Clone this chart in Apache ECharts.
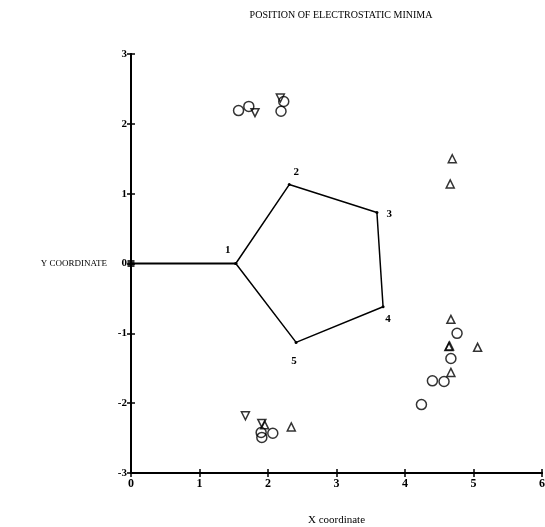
<!DOCTYPE html>
<html><head><meta charset="utf-8">
<script src="https://cdn.jsdelivr.net/npm/echarts@6/dist/echarts.min.js"></script>
<style>html,body{margin:0;padding:0;background:#fff}#c{width:545px;height:527px}</style>
</head><body><div id="c"></div>
<script>
var xTicks = [0, 1, 2, 3, 4, 5, 6];
var yTicks = [-3, -2, -1, 0, 1, 2, 3];
var stemLine = [[0, 0], [1.53, 0]];
var pentagon = [[1.53, 0], [2.31, 1.13], [3.59, 0.73], [3.68, -0.62], [2.41, -1.13], [1.53, 0]];
var vertexLabels = ['1', '2', '3', '4', '5'];
var circles = [[1.57, 2.19], [1.72, 2.25], [2.23, 2.32], [2.19, 2.18],
  [4.76, -1.00], [4.67, -1.36], [4.40, -1.68], [4.57, -1.69], [4.24, -2.02],
  [1.90, -2.42], [1.91, -2.49], [2.07, -2.43]];
var upTriangles = [[4.69, 1.50], [4.66, 1.14], [4.67, -0.80], [4.64, -1.19], [4.65, -1.18],
  [5.06, -1.20], [4.67, -1.56], [1.95, -2.31], [2.34, -2.34]];
var downTriangles = [[1.81, 2.16], [2.18, 2.37], [1.67, -2.18], [1.91, -2.29]];
var origin = [[0, 0]];

var serif = '"Liberation Serif", "DejaVu Serif", serif';
var chart = echarts.init(document.getElementById('c'));
var labelPos = ['top', 'top', 'right', 'bottom', 'bottom'];
var labelOff = [[-8, -1], [7, 0], [3, 2], [5, 0], [-2, 7]];
var pentData = pentagon.slice(0, 5).map(function (p, i) {
  return { value: p, label: { show: true, formatter: vertexLabels[i], position: labelPos[i], offset: labelOff[i] } };
});
pentData.push({ value: pentagon[5] });
var axisCommon = {
  axisLine: { show: true, onZero: false, lineStyle: { color: '#000', width: 2 } },
  splitLine: { show: false }
};
chart.setOption({
  animation: false,
  title: { text: 'POSITION OF ELECTROSTATIC MINIMA', left: 336, top: 5, textAlign: 'center',
    textStyle: { fontFamily: serif, fontSize: 10, fontWeight: 'normal', color: '#000' } },
  grid: { left: 131, right: 3, top: 54, bottom: 54, outerBoundsMode: 'none', containLabel: false },
  xAxis: [
    Object.assign({ type: 'value', min: 0, max: 6, interval: 1, position: 'bottom',
      name: 'X coordinate', nameLocation: 'middle', nameGap: 42,
      nameTextStyle: { fontFamily: serif, fontSize: 11, color: '#000' },
      axisTick: { show: true, length: 4, lineStyle: { color: '#000', width: 1.5 } },
      axisLabel: { fontFamily: serif, fontSize: 12, fontWeight: 'bold', color: '#000', margin: 5,
        formatter: function (v) { return xTicks.indexOf(v) >= 0 ? String(v) : ''; } } }, axisCommon),
    Object.assign({ type: 'value', min: 0, max: 6, interval: 1, position: 'bottom',
      axisTick: { show: true, inside: true, length: 4, lineStyle: { color: '#000', width: 1.5 } },
      axisLabel: { show: false } }, axisCommon)
  ],
  yAxis: [
    Object.assign({ type: 'value', min: -3, max: 3, interval: 1, position: 'left',
      name: 'Y COORDINATE', nameLocation: 'middle', nameRotate: 0, nameGap: 24,
      nameTextStyle: { fontFamily: serif, fontSize: 9, color: '#000', align: 'right' },
      axisTick: { show: true, length: 4, lineStyle: { color: '#000', width: 1.5 } },
      axisLabel: { fontFamily: serif, fontSize: 11, fontWeight: 'bold', color: '#000', margin: 4,
        formatter: function (v) { return yTicks.indexOf(v) >= 0 ? String(v) : ''; } } }, axisCommon),
    Object.assign({ type: 'value', min: -3, max: 3, interval: 1, position: 'left', offset: 0,
      axisTick: { show: true, inside: true, length: 4, lineStyle: { color: '#000', width: 1.5 } },
      axisLabel: { show: false } }, axisCommon)
  ],
  series: [
    { type: 'line', data: stemLine, symbol: 'none', lineStyle: { color: '#000', width: 2 }, z: 3 },
    { type: 'line', data: pentData, symbol: 'circle', symbolSize: 3, itemStyle: { color: '#000' },
      lineStyle: { color: '#000', width: 1.5 },
      label: { fontFamily: serif, fontSize: 11, fontWeight: 'bold', color: '#000' }, z: 3 },
    { type: 'scatter', data: origin, symbol: 'rect', symbolSize: 7, itemStyle: { color: '#000' }, z: 4 },
    { type: 'scatter', data: circles, symbol: 'circle', symbolSize: 10,
      itemStyle: { color: 'rgba(0,0,0,0)', borderColor: '#000', borderWidth: 1.5 } },
    { type: 'scatter', data: upTriangles, symbol: 'triangle', symbolSize: 8,
      itemStyle: { color: 'rgba(0,0,0,0)', borderColor: '#000', borderWidth: 1.5 } },
    { type: 'scatter', data: downTriangles, symbol: 'triangle', symbolRotate: 180, symbolSize: 8,
      itemStyle: { color: 'rgba(0,0,0,0)', borderColor: '#000', borderWidth: 1.5 } }
  ]
});
</script></body></html>
